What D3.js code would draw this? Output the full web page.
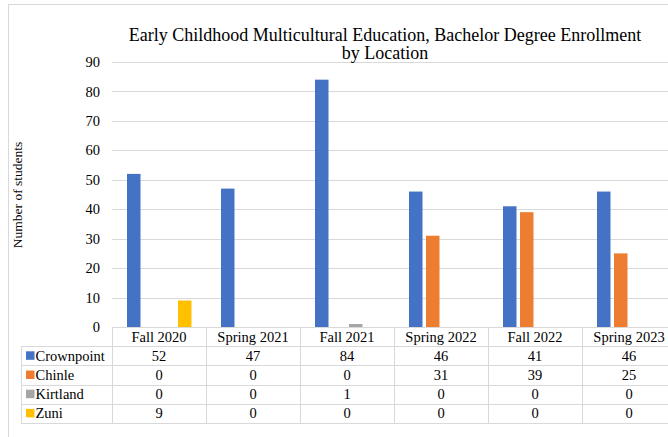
<!DOCTYPE html>
<html>
<head>
<meta charset="utf-8">
<script src="https://cdn.jsdelivr.net/npm/d3@7"></script>
<style>
  body { margin: 0; background: #fff; }
  text { font-family: "Liberation Serif", "Times New Roman", serif; fill: #000; }
</style>
</head>
<body>
<div id="chart"></div>
<script>
// chart data
const categories = ["Fall 2020", "Spring 2021", "Fall 2021", "Spring 2022", "Fall 2022", "Spring 2023"];
const seriesNames = ["Crownpoint", "Chinle", "Kirtland", "Zuni"];
const crownpoint = [52, 47, 84, 46, 41, 46];
const chinle = [0, 0, 0, 31, 39, 25];
const kirtland = [0, 0, 1, 0, 0, 0];
const zuni = [9, 0, 0, 0, 0, 0];
const yTicks = [0, 10, 20, 30, 40, 50, 60, 70, 80, 90];
const colors = ["#4472C4", "#ED7D31", "#A5A5A5", "#FFC000"];

const seriesValues = [crownpoint, chinle, kirtland, zuni];

const W = 668, H = 437;
const plot = {left: 112, right: 676, top: 62, bottom: 327};
const rowH = 19.2;
const labelLeft = 21;
const gridColor = "#d9d9d9";
const serif = "Liberation Serif, Times New Roman, serif";

const svg = d3.select("#chart").append("svg")
    .attr("width", W)
    .attr("height", H);

// outer chart border
svg.append("rect")
    .attr("x", 8.5).attr("y", 4.5)
    .attr("width", 700).attr("height", 460)
    .attr("fill", "none")
    .attr("stroke", gridColor);

// scales
const x0 = d3.scaleBand()
    .domain(categories)
    .range([plot.left, plot.right]);

const x1 = d3.scaleBand()
    .domain(seriesNames)
    .range([15, 79.5])
    .paddingInner(3.5 / 17);

const y = d3.scaleLinear()
    .domain([0, 90])
    .range([plot.bottom, plot.top]);

// gridlines
svg.append("g")
    .selectAll("line")
    .data(yTicks.filter(d => d > 0))
    .join("line")
    .attr("x1", plot.left).attr("x2", plot.right)
    .attr("y1", d => Math.round(y(d)) + 0.5)
    .attr("y2", d => Math.round(y(d)) + 0.5)
    .attr("stroke", gridColor);

// y axis labels
const yAxis = d3.axisLeft(y).tickValues(yTicks).tickSize(0).tickPadding(12);
svg.append("g")
    .attr("transform", "translate(" + plot.left + ",0)")
    .call(yAxis)
    .call(g => g.select(".domain").remove())
    .attr("font-family", serif)
    .selectAll("text")
    .attr("font-size", 14.5)
    .attr("fill", "#000");

// bars
const groups = svg.append("g")
    .selectAll("g")
    .data(categories)
    .join("g")
    .attr("transform", d => "translate(" + x0(d) + ",0)");

groups.selectAll("rect")
    .data((c, ci) => seriesNames.map((s, si) => ({s: s, si: si, v: seriesValues[si][ci]})))
    .join("rect")
    .attr("x", d => x1(d.s))
    .attr("width", x1.bandwidth())
    .attr("y", d => y(d.v))
    .attr("height", d => y(0) - y(d.v))
    .attr("fill", d => colors[d.si]);

// data table
const table = svg.append("g");
const tableBottom = plot.bottom + rowH * 5;

// horizontal lines
table.append("line")
    .attr("x1", plot.left).attr("x2", plot.right)
    .attr("y1", plot.bottom + 0.5).attr("y2", plot.bottom + 0.5)
    .attr("stroke", gridColor);
for (let r = 1; r <= 5; r++) {
    const yy = Math.round(plot.bottom + rowH * r) + 0.5;
    table.append("line")
        .attr("x1", labelLeft).attr("x2", plot.right)
        .attr("y1", yy).attr("y2", yy)
        .attr("stroke", gridColor);
}
// vertical lines
table.append("line")
    .attr("x1", labelLeft + 0.5).attr("x2", labelLeft + 0.5)
    .attr("y1", plot.bottom + rowH).attr("y2", tableBottom)
    .attr("stroke", gridColor);
categories.forEach(c => {
    const xx = Math.round(x0(c)) + 0.5;
    table.append("line")
        .attr("x1", xx).attr("x2", xx)
        .attr("y1", plot.bottom).attr("y2", tableBottom)
        .attr("stroke", gridColor);
});

// header row
table.selectAll(".hdr")
    .data(categories)
    .join("text")
    .attr("class", "hdr")
    .attr("x", d => x0(d) + x0.bandwidth() / 2)
    .attr("y", plot.bottom + rowH / 2 + 5)
    .attr("text-anchor", "middle")
    .attr("font-size", 14.5)
    .text(d => d);

// series rows
seriesNames.forEach((s, si) => {
    const rowY = plot.bottom + rowH * (si + 1);
    table.append("rect")
        .attr("x", 26).attr("y", rowY + rowH / 2 - 4.5)
        .attr("width", 8.5).attr("height", 8.5)
        .attr("fill", colors[si]);
    table.append("text")
        .attr("x", 35.5)
        .attr("y", rowY + rowH / 2 + 5)
        .attr("font-size", 14.5)
        .text(s);
    table.selectAll(".v" + si)
        .data(seriesValues[si])
        .join("text")
        .attr("class", "v" + si)
        .attr("x", (d, i) => x0(categories[i]) + x0.bandwidth() / 2)
        .attr("y", rowY + rowH / 2 + 5)
        .attr("text-anchor", "middle")
        .attr("font-size", 14.5)
        .text(d => d);
});

// title
const title = svg.append("text")
    .attr("text-anchor", "middle")
    .attr("font-size", 18);
title.append("tspan").attr("x", 385).attr("y", 40.5)
    .text("Early Childhood Multicultural Education, Bachelor Degree Enrollment");
title.append("tspan").attr("x", 385).attr("y", 59)
    .text("by Location");

// y axis title
svg.append("text")
    .attr("transform", "translate(22,195) rotate(-90)")
    .attr("text-anchor", "middle")
    .attr("font-size", 13.5)
    .text("Number of students");
</script>
</body>
</html>
